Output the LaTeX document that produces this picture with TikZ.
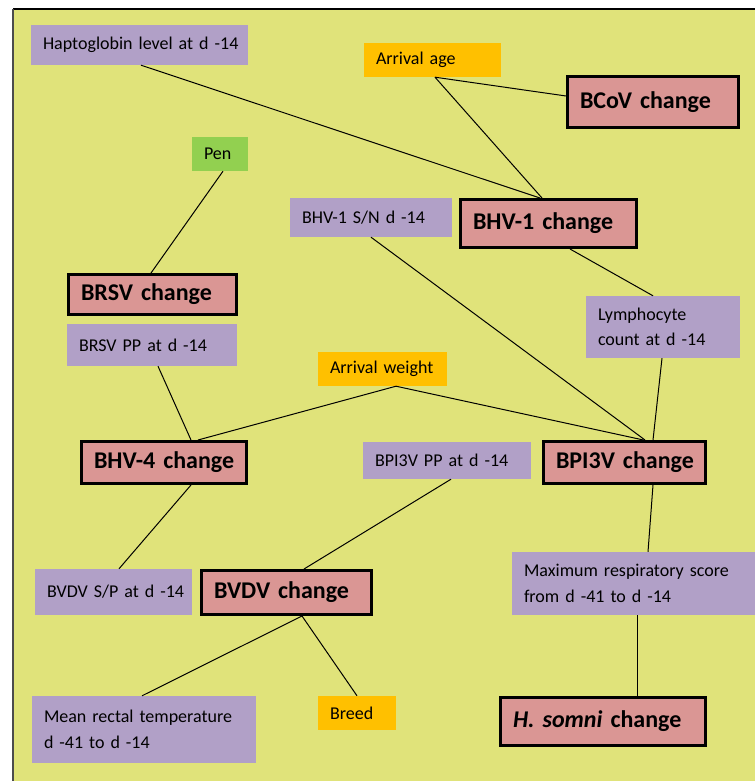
\documentclass[tikz,border=0pt]{standalone}
\usepackage{fontspec}
\setmainfont{Carlito}
\definecolor{bgc}{RGB}{224,227,122}
\definecolor{lav}{HTML}{B1A0C7}
\definecolor{rose}{HTML}{DA9694}
\definecolor{amber}{HTML}{FFC000}
\definecolor{limegr}{HTML}{92D050}
\tikzset{
  var/.style={fill=lav, inner xsep=12pt, inner ysep=0pt, align=left,
    font=\fontsize{18}{25.5}\selectfont},
  amb/.style={var, fill=amber},
  grn/.style={var, fill=limegr},
  chg/.style={fill=rose, draw=black, line width=3pt, inner xsep=12.5pt, inner ysep=0pt,
    align=left, font=\bfseries\fontsize{24}{28}\selectfont},
  link/.style={draw=black, line width=1pt}
}
\begin{document}
\begin{tikzpicture}[x=1pt,y=-1pt]
\useasboundingbox (0,0) rectangle (755,781);
\fill[bgc] (13,9) rectangle (755,781);
\draw[black, line width=2pt] (13,9) -- (755,9);
\draw[black!70, line width=1.5pt] (13,9) -- (13,781);

% variable boxes
\node[var, text width=193pt, minimum height=40pt] (hapto) at (139.5,45) {\mbox{Haptoglobin level at d -14}};
\node[amb, text width=113pt, minimum height=34pt] (arrage) at (432.5,60) {\mbox{Arrival age}};
\node[grn, text width=32pt, minimum height=34pt] (pen) at (220,154) {\mbox{Pen}};
\node[var, text width=138pt, minimum height=39pt] (bhv1sn) at (371,217.5) {\mbox{BHV-1 S/N d -14}};
\node[var, text width=146pt, minimum height=42pt] (brsvpp) at (152,345) {\mbox{BRSV PP at d -14}};
\node[var, text width=130pt, minimum height=62pt] (lymph) at (663,327) {Lymphocyte\\count at d -14};
\node[amb, text width=105pt, minimum height=34pt] (arrwt) at (382.5,369) {\mbox{Arrival weight}};
\node[var, text width=144pt, minimum height=37pt] (bpi3vpp) at (447,460.5) {\mbox{BPI3V PP at d -14}};
\node[var, text width=133pt, minimum height=46pt] (bvdvsp) at (113.5,592) {\mbox{BVDV S/P at d -14}};
\node[var, text width=219pt, minimum height=63pt] (maxresp) at (633.5,583.5) {Maximum respiratory score\\from d -41 to d -14};
\node[var, text width=200pt, minimum height=67pt] (meanrt) at (144,729.5) {Mean rectal temperature\\d -41 to d -14};
\node[amb, text width=54pt, minimum height=34pt] (breed) at (357,713) {\mbox{Breed}};

% change boxes
\node[chg, text width=146pt, minimum height=51pt] (bcov) at (653,102) {\mbox{BCoV change}};
\node[chg, text width=151pt, minimum height=48pt] (bhv1) at (548.5,223.5) {\mbox{BHV-1 change}};
\node[chg, text width=143pt, minimum height=40pt] (brsv) at (152.5,294.5) {\mbox{BRSV change}};
\node[chg, text width=140pt, minimum height=42pt] (bhv4) at (164,462.5) {\mbox{BHV-4 change}};
\node[chg, text width=137pt, minimum height=42pt] (bpi3v) at (624.5,462.5) {\mbox{BPI3V change}};
\node[chg, text width=145pt, minimum height=44pt] (bvdv) at (286.5,592.5) {\mbox{BVDV change}};
\node[chg, text width=180pt, minimum height=48pt] (hsomni) at (603,721.5) {\mbox{\textit{H. somni} change}};

% connectors
\draw[link] ([xshift=1.5pt]hapto.south) -- ([xshift=-8.5pt]bhv1.north);
\draw[link] ([xshift=2.5pt]arrage.south) -- ([xshift=-6.5pt]bhv1.north);
\draw[link] ([xshift=2.5pt]arrage.south) -- ([yshift=6pt]bcov.west);
\draw[link] ([xshift=3pt]pen.south) -- ([xshift=-1.5pt]brsv.north);
\draw[link] (bhv1sn.south) -- ([xshift=20.5pt]bpi3v.north);
\draw[link] ([xshift=21.5pt]bhv1.south) -- ([xshift=-10pt]lymph.north);
\draw[link] ([xshift=-1pt]lymph.south) -- ([xshift=28.5pt]bpi3v.north);
\draw[link] ([xshift=6pt]brsvpp.south) -- ([xshift=27pt]bhv4.north);
\draw[link] ([xshift=13.5pt]arrwt.south) -- ([xshift=34pt]bhv4.north);
\draw[link] ([xshift=13.5pt]arrwt.south) -- ([xshift=19pt]bpi3v.north);
\draw[link] ([xshift=27pt]bhv4.south) -- ([xshift=5.5pt]bvdvsp.north);
\draw[link] ([xshift=4pt]bpi3vpp.south) -- ([xshift=17.5pt]bvdv.north);
\draw[link] ([xshift=15.5pt]bvdv.south) -- ([xshift=-2pt]meanrt.north);
\draw[link] ([xshift=15.5pt]bvdv.south) -- (breed.north);
\draw[link] ([xshift=28.5pt]bpi3v.south) -- ([xshift=14.5pt]maxresp.north);
\draw[link] ([xshift=3.5pt]maxresp.south) -- ([xshift=34pt]hsomni.north);
\end{tikzpicture}
\end{document}
